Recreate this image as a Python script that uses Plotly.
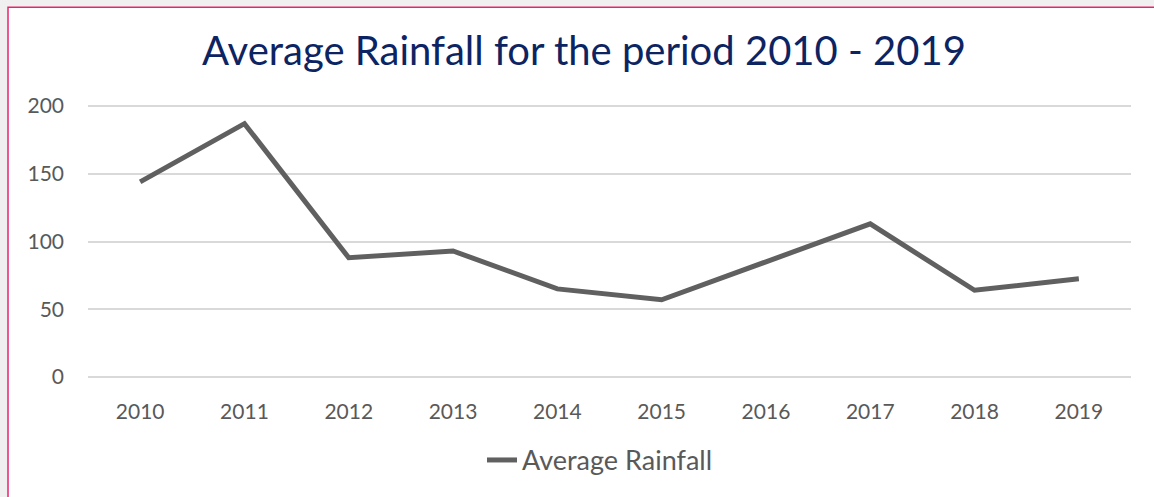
import plotly.graph_objects as go

# Annual average rainfall
years = ["2010", "2011", "2012", "2013", "2014", "2015", "2016", "2017", "2018", "2019"]
rainfall = [144, 187, 88, 93, 65, 57, 85, 113, 64, 72.5]
y_ticks = [0, 50, 100, 150, 200]

FONT = "Lato, 'Open Sans', sans-serif"
TEXT_GREY = "#595959"

# Plot-area geometry in pixels (used to place the outer frame)
LEFT, RIGHT, TOP, BOTTOM = 88, 1131, 104, 381
PW, PH = RIGHT - LEFT, BOTTOM - TOP

fig = go.Figure()
fig.add_trace(go.Scatter(
    x=years,
    y=rainfall,
    mode="lines",
    name="Average Rainfall",
    line=dict(color="#606060", width=5),
))

# Outer chart frame
fig.add_shape(
    type="rect", xref="paper", yref="paper",
    x0=(8 - LEFT) / PW, x1=(1170 - LEFT) / PW,
    y0=(BOTTOM - 510) / PH, y1=(BOTTOM - 6.5) / PH,
    line=dict(color="#E8246E", width=1.5),
    fillcolor="white", layer="below",
)

fig.update_layout(
    width=1154, height=497,
    paper_bgcolor="#f0f0f0",
    plot_bgcolor="rgba(0,0,0,0)",
    margin=dict(l=LEFT, r=1154 - RIGHT, t=TOP, b=497 - BOTTOM),
    font=dict(family=FONT, color=TEXT_GREY, size=21),
    title=dict(
        text="Average Rainfall for the period 2010 - 2019",
        x=584 / 1154, xref="container", xanchor="center",
        y=1 - 51 / 497, yanchor="middle",
        font=dict(family=FONT, size=40, color="#0D2463"),
    ),
    xaxis=dict(
        range=[-0.5, 9.5],
        showgrid=False, zeroline=False, showline=False,
        ticks="", ticklabelstandoff=18,
        tickfont=dict(size=21, color=TEXT_GREY),
    ),
    yaxis=dict(
        range=[-1.5, 201.5], tickvals=y_ticks,
        showgrid=True, gridcolor="#d9d9d9", gridwidth=1.5,
        zeroline=False, showline=False, ticks="",
        ticklabelstandoff=23,
        tickfont=dict(size=21, color=TEXT_GREY),
    ),
    showlegend=True,
    legend=dict(
        orientation="h", x=(482 - LEFT) / PW, xanchor="left",
        y=(BOTTOM - 463) / PH, yanchor="middle",
        font=dict(size=27, color=TEXT_GREY),
        bgcolor="rgba(0,0,0,0)",
    ),
)

fig.write_html("out.html")
